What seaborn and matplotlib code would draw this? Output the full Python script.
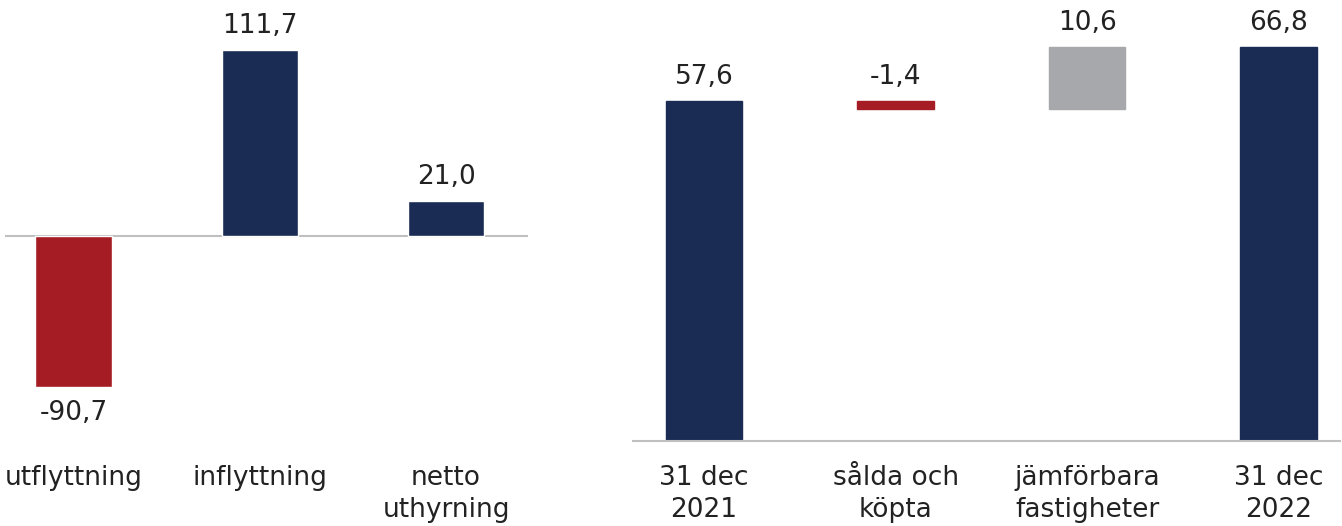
import matplotlib
matplotlib.use("Agg")
import matplotlib.pyplot as plt
import seaborn as sns
import pandas as pd

# Left panel: letting movements
flow_labels = ["utflyttning", "inflyttning", "netto\nuthyrning"]
flow_values = [-90.7, 111.7, 21.0]

# Right panel: bridge from 31 dec 2021 to 31 dec 2022
bridge_labels = ["31 dec\n2021", "sålda och\nköpta", "jämförbara\nfastigheter", "31 dec\n2022"]
bridge_values = [57.6, -1.4, 10.6, 66.8]
bridge_kinds = ["total", "change", "change", "total"]

NAVY = "#1b2c54"
RED = "#a51c24"
GREY = "#a7a8ab"
AXIS = "#c0c0c0"
TEXT = "#222222"
FS = 19

sns.set_style("white")
plt.rcParams["font.family"] = ["DejaVu Sans"]
plt.rcParams["text.color"] = TEXT


def fmt(v):
    return f"{v:.1f}".replace(".", ",")


fig = plt.figure(figsize=(13.42, 5.26), dpi=100)
ax1 = fig.add_axes([5 / 1342, 85 / 526, 523 / 1342, 441 / 526])
ax2 = fig.add_axes([633 / 1342, 85 / 526, 707 / 1342, 441 / 526])

# ---- left: bars around a zero line
df1 = pd.DataFrame({"cat": flow_labels, "val": flow_values})
flow_colors = [RED if v < 0 else NAVY for v in flow_values]
sns.barplot(data=df1, x="cat", y="val", hue="cat", palette=flow_colors,
            legend=False, width=0.41, saturation=1, ax=ax1)
ax1.axhline(0, color=AXIS, lw=1.5, zorder=0)
ax1.set_ylim(-123.1, 141.8)
ax1.set_xlim(-0.368, 2.44)
for i, v in enumerate(flow_values):
    if v >= 0:
        ax1.annotate(fmt(v), (i, v), xytext=(0, 12), textcoords="offset points",
                     ha="center", va="baseline", fontsize=FS)
    else:
        ax1.annotate(fmt(v), (i, v), xytext=(0, -9), textcoords="offset points",
                     ha="center", va="top", fontsize=FS)

# ---- right: waterfall bridge
running = 0.0
bottoms, heights = [], []
for v, k in zip(bridge_values, bridge_kinds):
    if k == "total":
        bottoms.append(0.0)
        heights.append(v)
        running = v
    else:
        start = running
        running = running + v
        bottoms.append(min(start, running))
        heights.append(abs(v))
tops = [b + h for b, h in zip(bottoms, heights)]

df2 = pd.DataFrame({"cat": bridge_labels, "h": heights})
sns.barplot(data=df2, x="cat", y="h", color=NAVY, width=0.40, saturation=1, ax=ax2)
bridge_colors = [NAVY if k == "total" else (RED if v < 0 else GREY)
                 for v, k in zip(bridge_values, bridge_kinds)]
for patch, b, h, c in zip(ax2.patches, bottoms, heights, bridge_colors):
    patch.set_y(b)
    patch.set_height(h)
    patch.set_facecolor(c)
    patch.set_edgecolor(c)
ax2.set_ylim(0, 74.7)
ax2.set_xlim(-0.371, 3.32)
for i, (t, v) in enumerate(zip(tops, bridge_values)):
    ax2.annotate(fmt(v), (i, t), xytext=(0, 12), textcoords="offset points",
                 ha="center", va="baseline", fontsize=FS)

for ax in (ax1, ax2):
    ax.set_xlabel("")
    ax.set_ylabel("")
    ax.set_yticks([])
    for s in ("top", "left", "right"):
        ax.spines[s].set_visible(False)
    ax.tick_params(axis="x", length=0, pad=17, labelsize=FS, labelcolor=TEXT)
    ax.set_facecolor("none")

ax1.spines["bottom"].set_visible(False)
ax2.spines["bottom"].set_color(AXIS)
ax2.spines["bottom"].set_linewidth(1.5)
for lab in ax1.get_xticklabels() + ax2.get_xticklabels():
    lab.set_multialignment("center")
    lab.set_linespacing(1.32)

fig.savefig("out.png", dpi=100, facecolor="white")
